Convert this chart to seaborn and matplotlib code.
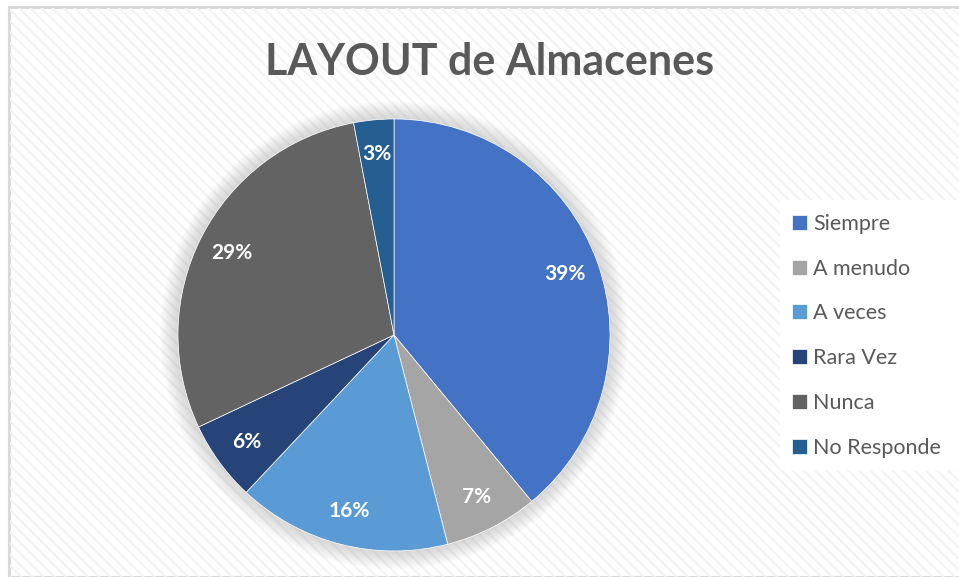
import matplotlib
matplotlib.use("Agg")
import matplotlib.pyplot as plt
from matplotlib.patches import Rectangle, Circle
import seaborn as sns

categories = ["Siempre", "A menudo", "A veces", "Rara Vez", "Nunca", "No Responde"]
values = [39, 7, 16, 6, 29, 3]
colors = ["#4472C4", "#A5A5A5", "#5B9BD5", "#264478", "#636363", "#255E91"]

sns.set_theme(style="white")
plt.rcParams["font.family"] = ["Lato", "DejaVu Sans"]
plt.rcParams["hatch.color"] = "#f3f3f3"
plt.rcParams["hatch.linewidth"] = 1.6

palette = sns.color_palette(colors)
text_grey = "#595959"

fig = plt.figure(figsize=(9.59, 5.77), dpi=100)
fig.patch.set_facecolor("white")

# chart area: striped background with light grey frame
bg = Rectangle((9 / 959, 0), 1.0, 1 - 7 / 577, transform=fig.transFigure,
               facecolor="white", edgecolor="#d9d9d9", linewidth=2.2, zorder=0)
fig.patches.append(bg)
stripes = Rectangle((10 / 959, 0), 1.0, 1 - 8 / 577, transform=fig.transFigure,
                    facecolor="none", edgecolor="#f3f3f3", linewidth=0,
                    hatch="\\\\\\", zorder=0)
fig.patches.append(stripes)

fig.text(0.511, 0.893, "LAYOUT de Almacenes", ha="center", va="center",
         fontsize=31, fontweight="bold", color=text_grey)

ax = fig.add_axes([0.1856, 0.0451, 0.4505, 0.7487])
ax.set_zorder(3)
ax.set_facecolor("none")

# soft shadow around the pie
for i in range(14):
    r = 1.0 + 0.006 * (i + 1)
    ax.add_patch(Circle((0, 0), r, facecolor="#8c8c8c", alpha=0.022,
                        edgecolor="none", clip_on=False, zorder=0))
ax.add_patch(Circle((0, 0), 1.0, facecolor="white", edgecolor="none", zorder=0))

wedges, texts, autotexts = ax.pie(
    values,
    colors=palette,
    startangle=90,
    counterclock=False,
    autopct="%1.0f%%",
    pctdistance=0.84,
    wedgeprops=dict(edgecolor="white", linewidth=0.5),
    textprops=dict(color="white", fontsize=15, fontweight="bold"),
)
ax.set_xlim(-1, 1)
ax.set_ylim(-1, 1)
ax.set_aspect("auto")
ax.axis("off")

# legend box
legend_box = Rectangle((780 / 959, 1 - 470 / 577), 179 / 959, 270 / 577,
                       transform=fig.transFigure, facecolor="white",
                       edgecolor="none", zorder=1)
fig.patches.append(legend_box)
leg = fig.legend(wedges, categories, loc="upper left",
                 bbox_to_anchor=(0.815, 0.648), frameon=False,
                 fontsize=15.5, labelspacing=1.15, handlelength=0.7,
                 handleheight=0.7, handletextpad=0.25, borderpad=0)
leg.set_zorder(4)
for t in leg.get_texts():
    t.set_color(text_grey)

fig.savefig("out.png", dpi=100)
